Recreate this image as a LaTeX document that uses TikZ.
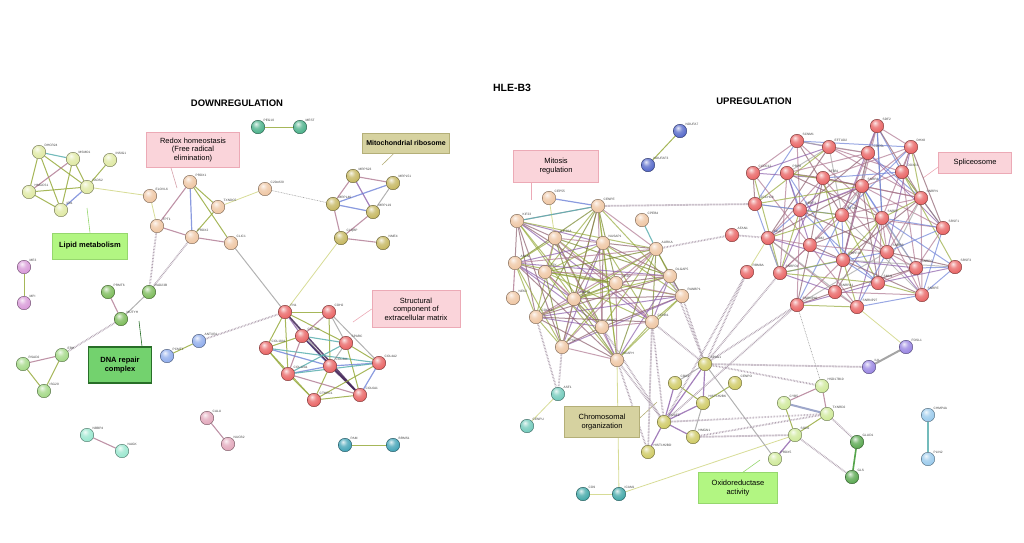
\documentclass[tikz,border=0pt]{standalone}
\usepackage{fontspec}
\setmainfont{Liberation Sans}
\usetikzlibrary{backgrounds}
% node colours
\definecolor{cLip}{RGB}{222,232,160}
\definecolor{cPch}{RGB}{238,196,160}
\definecolor{cGrn}{RGB}{70,175,135}
\definecolor{cOlv}{RGB}{195,180,90}
\definecolor{cPnk}{RGB}{215,150,215}
\definecolor{cDna}{RGB}{120,185,85}
\definecolor{cLgr}{RGB}{160,215,130}
\definecolor{cBlu}{RGB}{140,170,235}
\definecolor{cRed}{RGB}{232,95,95}
\definecolor{cRos}{RGB}{225,165,185}
\definecolor{cMnt}{RGB}{150,230,205}
\definecolor{cTea}{RGB}{60,160,180}
\definecolor{cNav}{RGB}{80,100,200}
\definecolor{cChr}{RGB}{205,200,95}
\definecolor{cAqu}{RGB}{110,200,185}
\definecolor{cCyn}{RGB}{60,165,165}
\definecolor{cPur}{RGB}{150,130,225}
\definecolor{cOxg}{RGB}{205,232,150}
\definecolor{cDgr}{RGB}{85,165,75}
\definecolor{cLbl}{RGB}{150,200,235}
% edge colours
\definecolor{kOl}{RGB}{150,170,60}
\definecolor{kOd}{RGB}{120,135,45}
\definecolor{kBr}{RGB}{140,95,110}
\definecolor{kPu}{RGB}{140,95,170}
\definecolor{kMa}{RGB}{175,120,145}
\definecolor{kBl}{RGB}{110,130,215}
\definecolor{kGr}{RGB}{165,165,165}
\definecolor{kYe}{RGB}{215,220,150}
\definecolor{kTe}{RGB}{90,175,175}
\definecolor{kDk}{RGB}{70,40,90}
\definecolor{kDot}{RGB}{175,160,175}
% box colours
\definecolor{bPink}{RGB}{250,212,218}
\definecolor{bPinkD}{RGB}{236,170,182}
\definecolor{bKhaki}{RGB}{214,210,160}
\definecolor{bKhakiD}{RGB}{180,175,120}
\definecolor{bLgreen}{RGB}{178,246,130}
\definecolor{bLgreenD}{RGB}{150,215,110}
\definecolor{bDgreen}{RGB}{115,210,110}
\definecolor{bDgreenD}{RGB}{40,110,40}
\colorlet{gball}{red}
\pgfdeclareradialshading[gball]{gball}{\pgfqpoint{-8bp}{12bp}}{%
  color(0bp)=(gball!15!white); color(14bp)=(gball!75!white); color(32bp)=(gball);
  color(50bp)=(gball!85!black); color(70bp)=(gball!70!black)}

\begin{document}
\begin{tikzpicture}[x=1pt,y=-1pt,
  gene/.style={circle,inner sep=0pt,minimum size=13.5pt,/utils/exec={\colorlet{gball}{#1}},shading=gball,draw=#1!50!black,line width=0.4pt},
  tag/.style={font=\fontsize{3.2}{3.5}\selectfont,text=black!75,inner sep=0.6pt},
  eOl/.style={draw=kOl,line width=1pt,opacity=0.85},
  ePu/.style={draw=kPu,line width=1.2pt,opacity=0.8},
  eMa/.style={draw=kMa,line width=1.1pt,opacity=0.8},
  eBl/.style={draw=kBl,line width=1.2pt,opacity=0.8},
  eGr/.style={draw=kGr,line width=1pt,opacity=0.85},
  eYe/.style={draw=kYe,line width=0.8pt},
  eTe/.style={draw=kTe,line width=1.1pt,opacity=0.85},
  eDk/.style={draw=kDk,line width=1.5pt,opacity=0.85},
  eDot/.style={draw=kDot,line width=1.8pt,dash pattern=on 0.6pt off 0.9pt},
  eThin/.style={draw=kGr,line width=0.6pt,dash pattern=on 0.8pt off 0.8pt},
  meshline/.style={line width=1pt,opacity=0.7},
  pinkbox/.style={draw=bPinkD,fill=bPink,line width=0.6pt,align=center,font=\fontsize{7.5}{8.6}\selectfont,inner sep=1pt},
  khakibox/.style={draw=bKhakiD,fill=bKhaki,line width=0.6pt,align=center,font=\fontsize{7.5}{8.6}\selectfont,inner sep=1pt},
  lgbox/.style={draw=bLgreenD,fill=bLgreen,line width=0.6pt,align=center,font=\fontsize{7.5}{8.6}\selectfont,inner sep=1pt},
  dgbox/.style={draw=bDgreenD,fill=bDgreen,line width=1.2pt,align=center,font=\bfseries\fontsize{7.5}{9}\selectfont,inner sep=1pt},
  pointer/.style={line width=0.6pt,draw=#1},
  heading/.style={font=\bfseries\fontsize{9.5}{11}\selectfont}
]
\useasboundingbox (0,0) rectangle (1024,542);

% ---------- headings ----------
\node[heading,font=\bfseries\fontsize{10.5}{12}\selectfont] (title) at (512,88) {HLE-B3};
\node[heading] (down) at (237,103) {DOWNREGULATION};
\node[heading] (up) at (754,101) {UPREGULATION};

% ---------- left nodes ----------
\foreach \n/\x/\y in {DHCR24/39/152,MSMO1/73/159,INSIG1/110/160,FADS2/87/187,HMGCS1/29/192,IDI1/61/210}
  \node[gene=cLip,label={[tag]45:\n}] (\n) at (\x,\y) {};
\foreach \n/\x/\y in {ELOVL6/150/196,PRDX1/190/182,TXNDC5/218/207,C20orf20/265/189,TPT1/157/226,PRDX2/192/237,CLIC1/231/243}
  \node[gene=cPch,label={[tag]45:\n}] (\n) at (\x,\y) {};
\foreach \n/\x/\y in {PEG10/258/127,MEST/300/127}
  \node[gene=cGrn,label={[tag]45:\n}] (\n) at (\x,\y) {};
\foreach \n/\x/\y in {MRPS23/353/176,MRPL51/393/183,MRPL46/333/204,MRPL19/373/212,C1QBP/341/238,NME4/383/243}
  \node[gene=cOlv,label={[tag]45:\n}] (\n) at (\x,\y) {};
\foreach \n/\x/\y in {ME3/24/267,MPI/24/303}
  \node[gene=cPnk,label={[tag]45:\n}] (\n) at (\x,\y) {};
\foreach \n/\x/\y in {PRMT6/108/292,RAD23B/149/292,MUTYH/121/319}
  \node[gene=cDna,label={[tag]45:\n}] (\n) at (\x,\y) {};
\foreach \n/\x/\y in {ERH/62/355,RSAD2/23/364,ISG20/44/391}
  \node[gene=cLgr,label={[tag]45:\n}] (\n) at (\x,\y) {};
\foreach \n/\x/\y in {ANTXR1/199/341,PCMT1/167/356}
  \node[gene=cBlu,label={[tag]45:\n}] (\n) at (\x,\y) {};
\foreach \n/\x/\y in {FN1/285/312,CDH2/329/312,COL1A1/302/336,SPARC/346/343,COL18A1/266/348,COL4A1/330/366,COL4A2/379/363,COL12A1/288/374,COL6A1/360/395,CTHRC1/314/400}
  \node[gene=cRed,label={[tag]45:\n}] (\n) at (\x,\y) {};
\foreach \n/\x/\y in {CALU/207/418,NUCB2/228/444}
  \node[gene=cRos,label={[tag]45:\n}] (\n) at (\x,\y) {};
\foreach \n/\x/\y in {NBBP4/87/435,NAGK/122/451}
  \node[gene=cMnt,label={[tag]45:\n}] (\n) at (\x,\y) {};
\foreach \n/\x/\y in {PAM/345/445,BRMS1/393/445}
  \node[gene=cTea,label={[tag]45:\n}] (\n) at (\x,\y) {};

% ---------- right nodes ----------
\def\mitcore{CENPE/598/206,KIF23/517/221,KIF20A/555/238,NUSAP1/603/243,AURKA/656/249,ANLN/515/263,TTK/545/272,DLGAP5/670/276,KIF2C/616/283,RANBP1/682/296,BUB1B/574/299,CDCA8/536/317,CCNB1/652/322,MKI67/602/327,TPX2/562/347,NCAPH/617/360}
\def\splist{SDF2/877/126,SCNM1/797/141,EFTUD2/829/147,CDC5L/868/153,DHX8/911/147,CCDC12/753/173,PRP8/787/173,SF3B1/823/178,DDX23/902/172,SNRPA/862/186,SNRPN/921/198,ZCCHC8/755/204,PRPF3/800/210,SF3A1/842/215,SNRPF/882/218,SRSF1/943/228,SLU7/768/238,LSM2/810/245,SNRPB/887/252,PRPF19/843/260,SNRPD1/780/273,SNRPG/916/268,SRSF3/955/267,SMU1/878/283,SNRPA1/835/292,SNRPE/922/295,SNRNP40/797/305,SNRNP27/857/307}
\foreach \n/\x/\y in {NDUFA7/680/131,NDUFAF3/648/165}
  \node[gene=cNav,label={[tag]45:\n}] (\n) at (\x,\y) {};
\foreach \n/\x/\y in \mitcore
  \node[gene=cPch,label={[tag]45:\n}] (\n) at (\x,\y) {};
\foreach \n/\x/\y in {CEP55/549/198,CPEB4/642/220,NEK2/513/298}
  \node[gene=cPch,label={[tag]45:\n}] (\n) at (\x,\y) {};
\foreach \n/\x/\y in \splist
  \node[gene=cRed,label={[tag]45:\n}] (\n) at (\x,\y) {};
\foreach \n/\x/\y in {AFAN1/732/235,RBM8A/747/272}
  \node[gene=cRed,label={[tag]45:\n}] (\n) at (\x,\y) {};
\foreach \n/\x/\y in {SPAG1/705/364,CBX3/675/383,CENPO/735/383,HIST1H2BK/703/403,H2AFZ/664/422,HMGN1/693/437,HIST1H2BD/648/452}
  \node[gene=cChr,label={[tag]45:\n}] (\n) at (\x,\y) {};
\foreach \n/\x/\y in {ASF1/558/394,CENPU/527/426}
  \node[gene=cAqu,label={[tag]45:\n}] (\n) at (\x,\y) {};
\foreach \n/\x/\y in {CD9/583/494,ICAM1/619/494}
  \node[gene=cCyn,label={[tag]45:\n}] (\n) at (\x,\y) {};
\foreach \n/\x/\y in {ILK/869/367,FOSL1/906/347}
  \node[gene=cPur,label={[tag]45:\n}] (\n) at (\x,\y) {};
\foreach \n/\x/\y in {HSD17B10/822/386,CYB5/784/403,TXNRD2/827/414,SOD2/795/435,PRDX5/775/459}
  \node[gene=cOxg,label={[tag]45:\n}] (\n) at (\x,\y) {};
\foreach \n/\x/\y in {GLUD1/857/442,GLS/852/477}
  \node[gene=cDgr,label={[tag]45:\n}] (\n) at (\x,\y) {};
\foreach \n/\x/\y in {CHMP4A/928/415,PLIN2/928/459}
  \node[gene=cLbl,label={[tag]45:\n}] (\n) at (\x,\y) {};

% ---------- boxes ----------
\node[pinkbox,minimum width=93pt,minimum height=35pt] (redox) at (193,150) {Redox homeostasis\\(Free radical\\elimination)};
\node[khakibox,font=\bfseries\fontsize{7}{8}\selectfont,minimum width=87pt,minimum height=20pt] (mitorib) at (406,143) {Mitochondrial ribosome};
\node[lgbox,font=\bfseries\fontsize{7.5}{8.6}\selectfont,minimum width=75pt,minimum height=26pt] (lipid) at (90,246) {Lipid metabolism};
\node[dgbox,minimum width=63pt,minimum height=36pt] (dnarep) at (120,365) {DNA repair\\complex};
\node[pinkbox,minimum width=88pt,minimum height=37pt] (struct) at (416,309) {Structural\\component of\\extracellular matrix};
\node[pinkbox,minimum width=85pt,minimum height=32pt] (mitosis) at (556,166) {Mitosis\\regulation};
\node[pinkbox,minimum width=73pt,minimum height=21pt] (splice) at (975,163) {Spliceosome};
\node[khakibox,minimum width=75pt,minimum height=31pt] (chromo) at (602,422) {Chromosomal\\organization};
\node[lgbox,minimum width=79pt,minimum height=31pt] (oxido) at (738,488) {Oxidoreductase\\activity};

% pointer tips
\coordinate (tRedox) at (177,188);
\coordinate (tLipid) at (87,208);
\coordinate (tMito) at (382,165);
\coordinate (tStruct) at (353,322);
\coordinate (tDna) at (139,321);
\coordinate (tMitosis) at (531,200);
\coordinate (tSplice) at (923,178);
\coordinate (tChromo) at (657,402);
\coordinate (tOxido) at (760,460);

\begin{scope}[on background layer]
% pointers
\draw[pointer=bPinkD!80!gray] ([xshift=-22pt]redox.south) -- (tRedox);
\draw[pointer=bLgreenD] (lipid.north) -- (tLipid);
\draw[pointer=bKhakiD] ([xshift=-12pt]mitorib.south) -- (tMito);
\draw[pointer=bPinkD] (struct.west) -- (tStruct);
\draw[pointer=bDgreenD] ([xshift=22pt]dnarep.north) -- (tDna);
\draw[pointer=bPinkD] ([xshift=-25pt]mitosis.south) -- (tMitosis);
\draw[pointer=bPinkD] ([yshift=-4pt]splice.west) -- (tSplice);
\draw[pointer=bKhakiD] ([yshift=4pt]chromo.east) -- (tChromo);
\draw[pointer=bLgreenD] ([xshift=5pt]oxido.north) -- (tOxido);

% ---- left edges ----
\foreach \a/\b/\s in {DHCR24/MSMO1/eTe,DHCR24/HMGCS1/eOl,DHCR24/FADS2/eOl,DHCR24/IDI1/eOl,MSMO1/HMGCS1/eMa,MSMO1/FADS2/eOl,MSMO1/IDI1/eOl,HMGCS1/FADS2/eOl,HMGCS1/IDI1/eOl,FADS2/IDI1/eBl,INSIG1/FADS2/eOl,FADS2/ELOVL6/eYe,
  ELOVL6/TPT1/eYe,TPT1/PRDX1/eMa,TPT1/PRDX2/eMa,PRDX1/PRDX2/eBl,PRDX1/TXNDC5/eOl,PRDX1/CLIC1/eOl,TXNDC5/PRDX2/eOl,PRDX2/CLIC1/eMa,TXNDC5/C20orf20/eYe,CLIC1/FN1/eGr,C1QBP/FN1/eYe,
  PEG10/MEST/eOl,MRPS23/MRPL51/eMa,MRPS23/MRPL46/eMa,MRPS23/MRPL19/ePu,MRPL51/MRPL46/eBl,MRPL51/MRPL19/eGr,MRPL46/MRPL19/eBl,MRPL46/C1QBP/eMa,MRPL19/C1QBP/eMa,C1QBP/NME4/eMa,
  ME3/MPI/eOl,PRMT6/MUTYH/eMa,RAD23B/MUTYH/eGr,ERH/RSAD2/eMa,ERH/ISG20/eOl,RSAD2/ISG20/eOl,ANTXR1/PCMT1/eOl,
  FN1/CDH2/eOl,FN1/COL1A1/ePu,FN1/COL18A1/eOl,FN1/COL4A1/eGr,FN1/COL6A1/eDk,FN1/COL12A1/eOl,FN1/SPARC/eOl,CDH2/COL1A1/eMa,CDH2/SPARC/eGr,CDH2/COL4A2/eGr,CDH2/COL4A1/eOl,
  COL1A1/COL18A1/eOl,COL1A1/SPARC/eTe,COL1A1/COL4A1/eBl,COL1A1/COL12A1/eMa,COL1A1/COL6A1/eDk,COL18A1/COL4A1/eBl,COL18A1/COL4A2/eTe,COL18A1/COL12A1/eOl,COL18A1/CTHRC1/eOl,
  SPARC/COL4A2/eOl,SPARC/COL4A1/eGr,SPARC/COL12A1/eTe,SPARC/COL6A1/eOl,COL4A1/COL4A2/eBl,COL4A1/COL12A1/eBl,COL4A1/COL6A1/eDk,COL4A1/CTHRC1/eOl,COL4A2/COL6A1/eBl,COL4A2/COL12A1/eTe,
  COL12A1/CTHRC1/eOl,COL12A1/COL6A1/eMa,CTHRC1/COL6A1/eOl,CTHRC1/COL4A2/eOl,CALU/NUCB2/eMa,NBBP4/NAGK/eMa,PAM/BRMS1/eOl}
  \draw[\s] (\a) -- (\b);
\foreach \a/\b in {TPT1/RAD23B,PRDX2/RAD23B,MUTYH/ERH,ANTXR1/FN1}
  \draw[eDot] (\a) -- (\b);
\draw[eThin] (C20orf20) -- (MRPL46);

% ---- mitosis mesh ----
\foreach \a/\xa/\ya [count=\i] in \mitcore {
  \foreach \b/\xb/\yb [count=\j] in \mitcore {
    \pgfmathtruncatemacro\ok{and(\j>\i, veclen(\xa-\xb,\ya-\yb)<170)}
    \pgfmathtruncatemacro\hh{mod(\i*\j*7+\i*3+\j*5,10)}
    \ifnum\ok=1 \ifnum\hh<8
      \pgfmathtruncatemacro\cc{mod(\i+\j*2,6)}
      \ifcase\cc \def\col{kOl}\or\def\col{kOd}\or\def\col{kBr}\or\def\col{kOl}\or\def\col{kPu}\else\def\col{kMa}\fi
      \draw[meshline,draw=\col] (\a) -- (\b);
    \fi\fi
  }
}
% ---- spliceosome mesh ----
\foreach \a/\xa/\ya [count=\i] in \splist {
  \foreach \b/\xb/\yb [count=\j] in \splist {
    \pgfmathtruncatemacro\ok{and(\j>\i, veclen(\xa-\xb,\ya-\yb)<115)}
    \pgfmathtruncatemacro\hh{mod(\i*\j*7+\i*3+\j*5,10)}
    \ifnum\ok=1 \ifnum\hh<6
      \pgfmathtruncatemacro\cc{mod(\i+\j*2,7)}
      \ifcase\cc \def\col{kMa}\or\def\col{kPu}\or\def\col{kBr}\or\def\col{kGr}\or\def\col{kMa}\or\def\col{kBl}\else\def\col{kOl}\fi
      \draw[meshline,draw=\col] (\a) -- (\b);
    \fi\fi
  }
}

% ---- right explicit edges ----
\foreach \a/\b/\s in {NDUFA7/NDUFAF3/eOl,CEP55/CENPE/eBl,CEP55/KIF20A/eYe,KIF23/CENPE/eTe,CPEB4/AURKA/eTe,NEK2/ANLN/eMa,
  RBM8A/SLU7/eYe,SDF2/SNRPF/eBl,
  SPAG1/HIST1H2BK/ePu,SPAG1/H2AFZ/ePu,SPAG1/CBX3/eGr,CBX3/HIST1H2BK/eOl,CBX3/H2AFZ/ePu,CENPO/HIST1H2BK/eOl,HIST1H2BK/H2AFZ/ePu,HIST1H2BK/HMGN1/eGr,H2AFZ/HMGN1/ePu,H2AFZ/HIST1H2BD/ePu,
  CYB5/HSD17B10/eMa,CYB5/SOD2/eOl,HSD17B10/TXNRD2/eMa,TXNRD2/SOD2/eOl,SOD2/PRDX5/ePu,
  SNRNP27/FOSL1/eYe,ICAM1/SOD2/eYe,ICAM1/NCAPH/eYe,ICAM1/CD9/eYe,ASF1/CENPU/eYe,SPAG1/PRDX5/eGr,CHMP4A/PLIN2/eTe}
  \draw[\s] (\a) -- (\b);
\draw[draw=kBl!60!gray,line width=2pt,opacity=0.7] (CYB5) -- (TXNRD2);
\draw[draw=kGr,line width=2pt] (ILK) -- (FOSL1);
\draw[draw=cDgr,line width=1.6pt] (GLUD1) -- (GLS);
\foreach \a/\b in {CENPE/ZCCHC8,AURKA/AFAN1,AFAN1/SLU7,DLGAP5/SPAG1,RANBP1/SPAG1,CCNB1/SPAG1,CCNB1/H2AFZ,CCNB1/HIST1H2BD,NCAPH/H2AFZ,NCAPH/HIST1H2BD,MKI67/H2AFZ,TPX2/ASF1,CDCA8/ASF1,
  RBM8A/SPAG1,RBM8A/H2AFZ,SNRNP40/SPAG1,SNRNP40/H2AFZ,SPAG1/SNRPD1,SPAG1/ILK,SPAG1/HSD17B10,H2AFZ/TXNRD2,HMGN1/SOD2,HMGN1/TXNRD2,TXNRD2/GLUD1,SOD2/GLS}
  \draw[eDot] (\a) -- (\b);
\draw[eThin] (HSD17B10) -- (SNRNP40);
\end{scope}
\end{tikzpicture}
\end{document}
